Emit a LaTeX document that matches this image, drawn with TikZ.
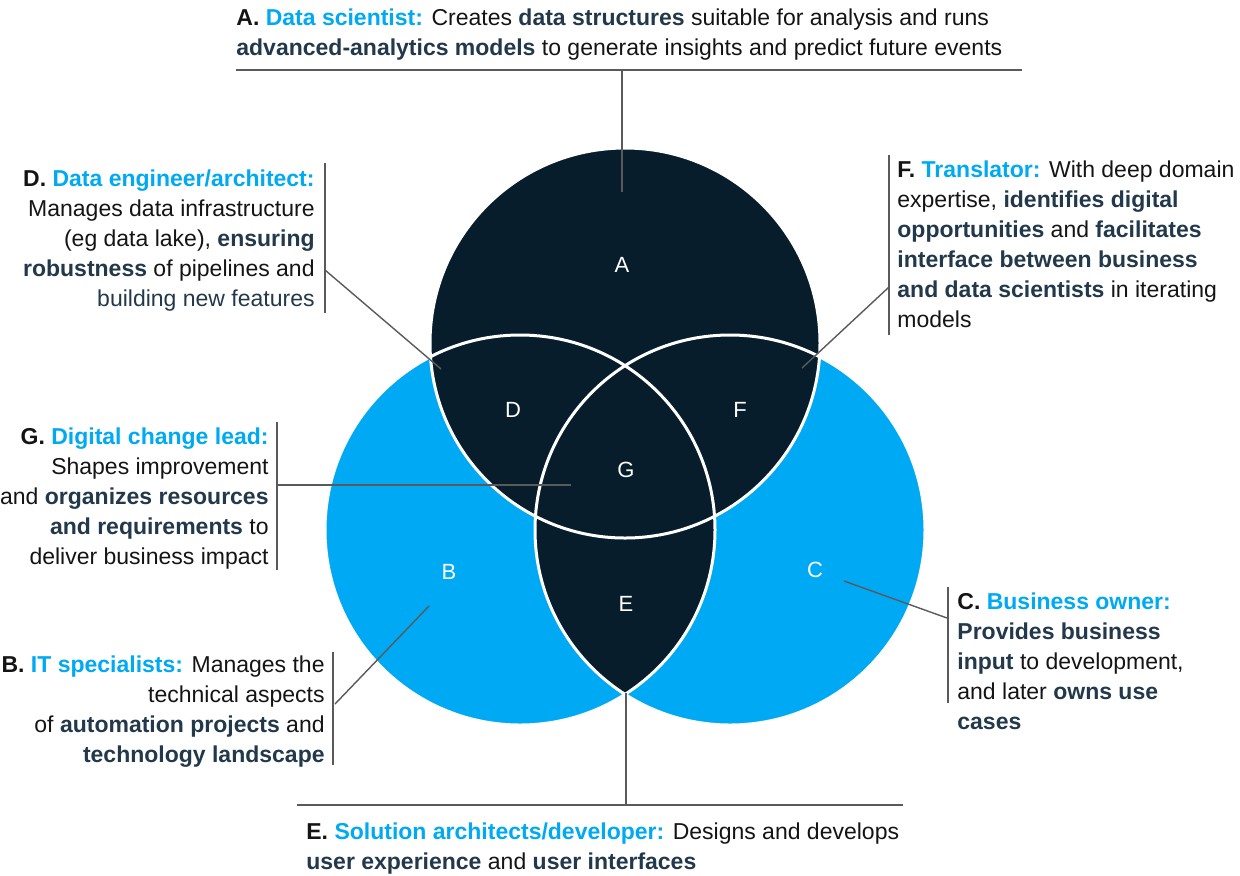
\documentclass[tikz,border=0pt]{standalone}
\usepackage{fontspec}
\setmainfont{Liberation Sans}
\usetikzlibrary{positioning}

\definecolor{navy}{HTML}{071D2C}
\definecolor{sky}{HTML}{00A9F4}
\definecolor{slate}{HTML}{22384B}
\definecolor{leader}{HTML}{5A5A5A}

\newcommand{\hl}[1]{\textbf{\color{slate}#1}}
\newcommand{\ttl}[2]{\textbf{#1} \textbf{\color{sky}#2}}

\begin{document}
\begin{tikzpicture}[x=0.5pt,y=-0.5pt,
  txt/.style={font=\fontsize{11.5}{15}\selectfont,inner sep=0pt,text=black!92},
  lbl/.style={font=\fontsize{11}{13}\selectfont,text=white},
  lead/.style={draw=leader,line width=0.7pt},
  ring/.style={draw=white,line width=1.5pt},
  rad/.style={radius=97.5pt}]

 \useasboundingbox (0,0) rectangle (1240,875);

 % circle centres
 \coordinate (cA) at (625,343);
 \coordinate (cB) at (520,530);
 \coordinate (cC) at (730,530);

 \fill[sky] (cB) circle[rad];
 \fill[sky] (cC) circle[rad];
 \fill[navy] (cA) circle[rad];
 \begin{scope}
  \clip (cB) circle[rad];
  \fill[navy] (cC) circle[rad];
 \end{scope}
 \draw[ring] (cA) circle[rad] (cB) circle[rad] (cC) circle[rad];

 % region letters
 \node[lbl] (A) at (622,265) {A};
 \node[lbl] (D) at (513,410) {D};
 \node[lbl] (F) at (740,410) {F};
 \node[lbl] (G) at (626,470) {G};
 \node[lbl] (B) at (449,572) {B};
 \node[lbl] (E) at (626,604) {E};
 \node[lbl] (C) at (815,570) {C};

 % A (base = last line)
 \node[txt,align=left,anchor=base west] (atxt) at (236,55)
  {\ttl{A.}{Data scientist:} Creates \hl{data structures} suitable for analysis and runs\\
   \hl{advanced-analytics models} to generate insights and predict future events};
 \coordinate (arule1) at (236,70);
 \coordinate (arule2) at (1022,70);
 \coordinate (aknee) at (622,70);
 \coordinate (atip) at (622,192);
 \draw[lead] (arule1) -- (arule2);
 \draw[lead] (aknee) -- (atip);

 % D
 \node[txt,align=right,anchor=base east] (dtxt) at (315,306)
  {\ttl{D.}{Data engineer/architect:}\\
   Manages data infrastructure\\
   (eg data lake), \hl{ensuring}\\
   \hl{robustness} of pipelines and\\
   {\color{slate}building new features}};
 \coordinate (dbar1) at (325,163);
 \coordinate (dbar2) at (325,313);
 \coordinate (dknee) at (325,270);
 \coordinate (dtip) at (441,369);
 \draw[lead] (dbar1) -- (dbar2);
 \draw[lead] (dknee) -- (dtip);

 % F
 \node[txt,align=left,anchor=base west] (ftxt) at (897,327)
  {\ttl{F.}{Translator:} With deep domain\\
   expertise, \hl{identifies digital}\\
   \hl{opportunities} and \hl{facilitates}\\
   \hl{interface between business}\\
   \hl{and data scientists} in iterating\\
   models};
 \coordinate (fbar1) at (889,155);
 \coordinate (fbar2) at (889,335);
 \coordinate (fknee) at (889,287);
 \coordinate (ftip) at (802,368);
 \draw[lead] (fbar1) -- (fbar2);
 \draw[lead] (fknee) -- (ftip);

 % G
 \node[txt,align=right,anchor=base east] (gtxt) at (269,564)
  {\ttl{G.}{Digital change lead:}\\
   Shapes improvement\\
   and \hl{organizes resources}\\
   \hl{and requirements} to\\
   deliver business impact};
 \coordinate (gbar1) at (277,422);
 \coordinate (gbar2) at (277,570);
 \coordinate (gknee) at (277,485);
 \coordinate (gtip) at (571,485);
 \draw[lead] (gbar1) -- (gbar2);
 \draw[lead] (gknee) -- (gtip);

 % B
 \node[txt,align=right,anchor=base east] (btxt) at (325,762)
  {\ttl{B.}{IT specialists:} Manages the\\
   technical aspects\\
   of \hl{automation projects} and\\
   \hl{technology landscape}};
 \coordinate (bbar1) at (333,652);
 \coordinate (bbar2) at (333,765);
 \coordinate (bknee) at (335,704);
 \coordinate (btip) at (429,606);
 \draw[lead] (bbar1) -- (bbar2);
 \draw[lead] (bknee) -- (btip);

 % C
 \node[txt,align=left,anchor=base west] (ctxt) at (957,729)
  {\ttl{C.}{Business owner:}\\
   \hl{Provides business}\\
   \hl{input} to development,\\
   and later \hl{owns use}\\
   \hl{cases}};
 \coordinate (cbar1) at (948,587);
 \coordinate (cbar2) at (948,703);
 \coordinate (cknee) at (947,618);
 \coordinate (ctip) at (844,581);
 \draw[lead] (cbar1) -- (cbar2);
 \draw[lead] (cknee) -- (ctip);

 % E
 \node[txt,align=left,anchor=base west] (etxt) at (306,869)
  {\ttl{E.}{Solution architects/developer:} Designs and develops\\
   \hl{user experience} and \hl{user interfaces}};
 \coordinate (erule1) at (297,805);
 \coordinate (erule2) at (903,805);
 \coordinate (eknee) at (626,805);
 \coordinate (etip) at (626,693);
 \draw[lead] (erule1) -- (erule2);
 \draw[lead] (eknee) -- (etip);

\end{tikzpicture}
\end{document}
